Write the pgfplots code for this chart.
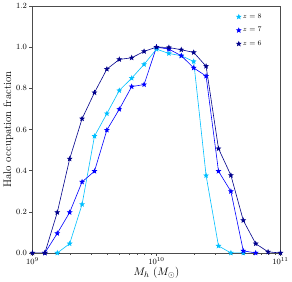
\documentclass[border=0pt]{standalone}
\usepackage{pgfplots}
\pgfplotsset{compat=1.18}
\definecolor{c8}{RGB}{0,191,255}
\definecolor{c7}{RGB}{0,0,255}
\definecolor{c6}{RGB}{0,0,139}
\pgfdeclareplotmark{fstar}{%
  \pgfpathmoveto{\pgfqpointpolar{90}{\pgfplotmarksize}}%
  \pgfpathlineto{\pgfqpointpolar{126}{0.42\pgfplotmarksize}}%
  \pgfpathlineto{\pgfqpointpolar{162}{\pgfplotmarksize}}%
  \pgfpathlineto{\pgfqpointpolar{198}{0.42\pgfplotmarksize}}%
  \pgfpathlineto{\pgfqpointpolar{234}{\pgfplotmarksize}}%
  \pgfpathlineto{\pgfqpointpolar{270}{0.42\pgfplotmarksize}}%
  \pgfpathlineto{\pgfqpointpolar{306}{\pgfplotmarksize}}%
  \pgfpathlineto{\pgfqpointpolar{342}{0.42\pgfplotmarksize}}%
  \pgfpathlineto{\pgfqpointpolar{18}{\pgfplotmarksize}}%
  \pgfpathlineto{\pgfqpointpolar{54}{0.42\pgfplotmarksize}}%
  \pgfpathclose
  \pgfusepathqfillstroke}
\begin{document}
\begin{tikzpicture}
\begin{axis}[
  scale only axis, width=248pt, height=247pt,
  xmin=9, xmax=11, ymin=0, ymax=1.2,
  xtick={9,10,11}, xticklabels={$10^{9}$,$10^{10}$,$10^{11}$},
  minor xtick={9.30103,9.47712,9.60206,9.69897,9.77815,9.84510,9.90309,9.95424,10.30103,10.47712,10.60206,10.69897,10.77815,10.84510,10.90309,10.95424},
  ytick={0,0.2,0.4,0.6,0.8,1.0,1.2},
  yticklabel style={/pgf/number format/fixed,/pgf/number format/precision=1,/pgf/number format/fixed zerofill, xshift=1pt},
  xticklabel style={yshift=1.5pt},
  tick label style={font=\fontsize{8.5}{9}\selectfont},
  xtick pos=bottom, ytick pos=left, tick align=outside,
  major tick length=3pt, minor tick length=1.8pt,
  axis line style={black!70, line width=0.6pt},
  tick style={black!70, line width=0.5pt},
  xlabel={$M_h$ ($M_\odot$)}, ylabel={Halo occupation fraction},
  label style={font=\fontsize{11}{12}\selectfont},
  xlabel style={yshift=4pt}, ylabel style={yshift=-4pt},
  legend style={draw=none, fill=none, at={(0.945,0.985)}, anchor=north east, font=\fontsize{7}{8}\selectfont, row sep=3.5pt},
  legend cell align=left,
  legend image code/.code={\draw[#1, mark=fstar, mark size=2.2pt, only marks] plot coordinates {(0.1cm,0cm)};},
  every axis plot/.append style={line width=0.6pt, mark=fstar, mark size=2.2pt},
]
\addplot[c8, mark options={fill=c8}] coordinates {
(9.2,0) (9.3,0.045) (9.4,0.236) (9.5,0.567) (9.6,0.677) (9.7,0.789) (9.8,0.849) (9.9,0.916) (10.0,0.99) (10.1,0.969) (10.2,0.958) (10.3,0.93) (10.4,0.376) (10.5,0.034) (10.6,0) (10.7,0)};
\addlegendentry{$z=8$}
\addplot[c7, mark options={fill=c7}] coordinates {
(9.1,0) (9.2,0.095) (9.3,0.197) (9.4,0.345) (9.5,0.397) (9.6,0.597) (9.7,0.698) (9.8,0.808) (9.9,0.818) (10.0,1.0) (10.1,0.99) (10.2,0.958) (10.3,0.899) (10.4,0.859) (10.5,0.397) (10.6,0.299) (10.7,0.01) (10.8,0)};
\addlegendentry{$z=7$}
\addplot[c6, mark options={fill=c6}] coordinates {
(9.0,0) (9.1,0) (9.2,0.197) (9.3,0.457) (9.4,0.652) (9.5,0.779) (9.6,0.893) (9.7,0.94) (9.8,0.948) (9.9,0.979) (10.0,1.0) (10.1,0.998) (10.2,0.987) (10.3,0.974) (10.4,0.907) (10.5,0.507) (10.6,0.377) (10.7,0.158) (10.8,0.045) (10.9,0.005) (11.0,0)};
\addlegendentry{$z=6$}
\end{axis}
\end{tikzpicture}
\end{document}
